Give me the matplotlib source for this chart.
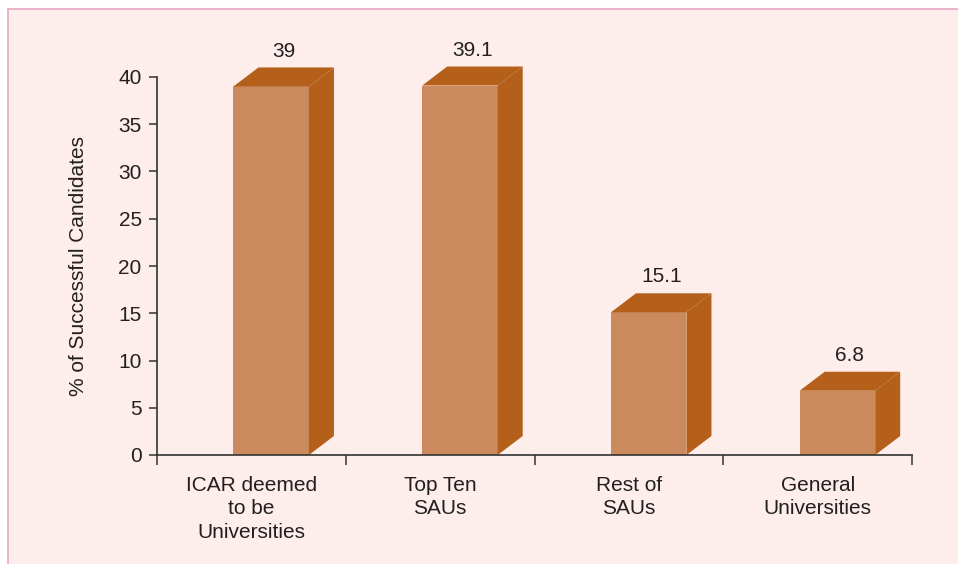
import matplotlib
matplotlib.use("Agg")
import matplotlib.pyplot as plt
from matplotlib.patches import Polygon, Rectangle

plt.rcParams['font.family'] = ['Liberation Sans', 'DejaVu Sans']

# data
categories = ['ICAR deemed\nto be\nUniversities', 'Top Ten\nSAUs', 'Rest of\nSAUs', 'General\nUniversities']
values = [39, 39.1, 15.1, 6.8]
value_labels = ['39', '39.1', '15.1', '6.8']
yticks = [0, 5, 10, 15, 20, 25, 30, 35, 40]

bg = '#fdeeec'
front_col = '#cb8a5e'
side_col = '#b5601a'
axis_col = '#333333'
text_col = '#231f20'
fs = 15

fig = plt.figure(figsize=(9.58, 5.64), dpi=100)
fig.patch.set_facecolor('white')

# pink panel with border on top/left
W, H = 958, 564
panel = Rectangle((8 / W, -0.01), 1.0, (H - 9) / H + 0.01, transform=fig.transFigure,
                  facecolor=bg, edgecolor='#e8a7c2', linewidth=1.2, zorder=-5)
fig.patches.append(panel)

ax = fig.add_axes([157 / W, (H - 455) / H, (912 - 157) / W, (455 - 77) / H])
ax.set_facecolor('none')
ax.set_xlim(0, 4)
ax.set_ylim(0, 40)

# 3D-look bars: front face + top + side, depth in pixels
depth_x, depth_y = 25, 19
inv = ax.transData.inverted()
for i, v in enumerate(values):
    x0 = i + 0.405
    x1 = i + 0.805
    # front
    ax.add_patch(Rectangle((x0, 0), x1 - x0, v, facecolor=front_col, edgecolor='none',
                           clip_on=False, zorder=3))
    # top face
    p0 = ax.transData.transform((x0, v))
    p1 = ax.transData.transform((x1, v))
    top = [p0, p1, (p1[0] + depth_x, p1[1] + depth_y), (p0[0] + depth_x, p0[1] + depth_y)]
    ax.add_patch(Polygon([inv.transform(p) for p in top], closed=True, facecolor=side_col,
                         edgecolor='none', clip_on=False, zorder=3))
    # side face
    b1 = ax.transData.transform((x1, 0))
    side = [b1, p1, (p1[0] + depth_x, p1[1] + depth_y), (b1[0] + depth_x, b1[1] + depth_y)]
    ax.add_patch(Polygon([inv.transform(p) for p in side], closed=True, facecolor=side_col,
                         edgecolor='none', clip_on=False, zorder=3))
    # value label
    cx = ax.transData.transform(((x0 + x1) / 2, v))
    ax.annotate(value_labels[i], xy=inv.transform((cx[0] + depth_x / 2, cx[1] + depth_y)),
                xytext=(0, 5), textcoords='offset points', ha='center', va='bottom',
                fontsize=fs, color=text_col, annotation_clip=False)

for s in ['top', 'right']:
    ax.spines[s].set_visible(False)
for s in ['left', 'bottom']:
    ax.spines[s].set_color(axis_col)
    ax.spines[s].set_linewidth(1.2)
    ax.spines[s].set_zorder(4)

ax.set_yticks(yticks)
ax.set_yticklabels([str(t) for t in yticks])
ax.tick_params(axis='y', direction='out', length=6, width=1.1, color=axis_col,
               labelsize=fs, labelcolor=text_col, pad=5)

ax.set_xticks([0, 1, 2, 3, 4])
ax.set_xticklabels([])
ax.set_xticks([0.5, 1.5, 2.5, 3.5], minor=True)
ax.set_xticklabels(categories, minor=True, fontsize=fs, color=text_col, linespacing=1.3)
ax.tick_params(axis='x', which='major', direction='out', length=7, width=1.1, color=axis_col)
ax.tick_params(axis='x', which='minor', length=0, pad=15)

ax.set_ylabel('% of Successful Candidates', fontsize=fs, color=text_col, labelpad=22)

fig.savefig('out.png', dpi=100, facecolor=fig.get_facecolor())
